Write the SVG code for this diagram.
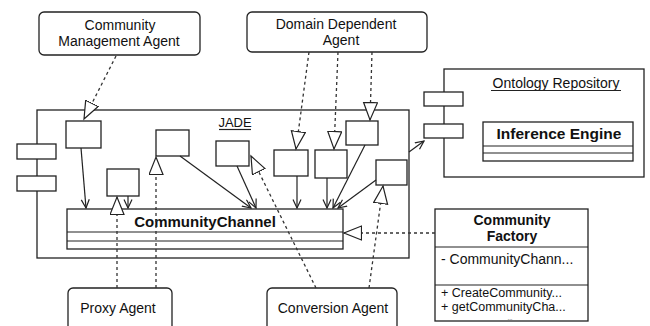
<svg xmlns="http://www.w3.org/2000/svg" width="650" height="326" viewBox="0 0 650 326">
<defs>
<style>
.box{fill:#fff;stroke:#222;stroke-width:1.3}
.ln{fill:none;stroke:#222;stroke-width:1.2}
.dep{fill:none;stroke:#333;stroke-width:1.3;stroke-dasharray:3,3}
.t{font-family:"Liberation Sans",Arial,sans-serif;fill:#111;text-anchor:middle}
.tl{font-family:"Liberation Sans",Arial,sans-serif;fill:#111}
.b{font-weight:bold}
</style>
<marker id="tri" markerUnits="userSpaceOnUse" markerWidth="20" markerHeight="16" refX="18" refY="7.5" orient="auto" viewBox="0 0 20 16">
<path d="M0.5,0.5 L18,7.5 L0.5,14.5 Z" fill="#fff" stroke="#222" stroke-width="1.2"/>
</marker>
<marker id="arr" markerUnits="userSpaceOnUse" markerWidth="10" markerHeight="10" refX="9" refY="4.5" orient="auto" viewBox="0 0 10 10">
<path d="M0.5,0.5 L9,4.5 L0.5,8.5" fill="none" stroke="#222" stroke-width="1.2"/>
</marker>
</defs>
<rect width="650" height="326" fill="#fff"/>

<g id="jade">
<rect class="box" x="37" y="110" width="372" height="148"/>
<rect class="box" x="17" y="144" width="39" height="15"/>
<rect class="box" x="17" y="176" width="39" height="15"/>
<text class="t" x="235" y="127" font-size="13">JADE</text>
<line class="ln" x1="219" y1="129.5" x2="251" y2="129.5"/>
</g>

<g id="box-a"><rect class="box" x="66" y="121" width="35" height="27"/></g>
<g id="box-b"><rect class="box" x="107" y="169" width="32" height="27"/></g>
<g id="box-c"><rect class="box" x="156" y="130" width="33" height="26"/></g>
<g id="box-d"><rect class="box" x="216" y="141" width="33" height="25"/></g>
<g id="box-e"><rect class="box" x="274" y="150" width="34" height="26"/></g>
<g id="box-f"><rect class="box" x="315" y="150" width="32" height="28"/></g>
<g id="box-g"><rect class="box" x="346" y="121" width="32" height="24"/></g>
<g id="box-h"><rect class="box" x="376" y="160" width="31" height="25"/></g>

<g id="community-channel">
<rect class="box" x="67" y="209" width="276" height="40"/>
<line class="ln" x1="67" y1="232" x2="343" y2="232"/>
<line class="ln" x1="67" y1="241" x2="343" y2="241"/>
<text class="t b" x="205" y="227" font-size="15">CommunityChannel</text>
</g>

<g id="community-management-agent">
<rect class="box" x="39" y="12" width="161" height="43" rx="5"/>
<text class="t" x="120" y="30" font-size="14">Community</text>
<text class="t" x="119" y="46" font-size="14">Management Agent</text>
</g>

<g id="domain-dependent-agent">
<rect class="box" x="247" y="12" width="180" height="40" rx="5"/>
<text class="t" x="336" y="29" font-size="14">Domain Dependent</text>
<text class="t" x="341" y="45" font-size="14">Agent</text>
</g>

<g id="ontology-repository">
<rect class="box" x="444" y="69" width="200" height="108"/>
<rect class="box" x="424" y="92" width="39" height="14"/>
<rect class="box" x="424" y="124" width="39" height="14"/>
<text class="t" x="556" y="88" font-size="14">Ontology Repository</text>
<line class="ln" x1="491" y1="90.5" x2="621" y2="90.5"/>
</g>

<g id="inference-engine">
<rect class="box" x="483" y="122" width="150" height="39"/>
<line class="ln" x1="483" y1="146" x2="633" y2="146"/>
<line class="ln" x1="483" y1="153" x2="633" y2="153"/>
<text class="t b" x="559" y="139" font-size="15.5">Inference Engine</text>
</g>

<g id="community-factory">
<rect class="box" x="435" y="209" width="153" height="112"/>
<line class="ln" x1="435" y1="247" x2="588" y2="247"/>
<line class="ln" x1="435" y1="285" x2="588" y2="285"/>
<text class="t b" x="512" y="225" font-size="14">Community</text>
<text class="t b" x="512" y="241" font-size="14">Factory</text>
<text class="tl" x="441" y="264" font-size="14">- CommunityChann...</text>
<text class="tl" x="441" y="297" font-size="12.5">+ CreateCommunity...</text>
<text class="tl" x="441" y="311" font-size="12.5">+ getCommunityCha...</text>
<text class="t" x="510" y="319.5" font-size="6">...</text>
</g>

<g id="proxy-agent">
<rect class="box" x="68" y="288" width="104" height="50" rx="5"/>
<text class="t" x="118" y="313" font-size="14">Proxy Agent</text>
</g>

<g id="conversion-agent">
<rect class="box" x="267" y="288" width="130" height="50" rx="5"/>
<text class="t" x="333" y="313" font-size="14">Conversion Agent</text>
</g>

<g id="connectors">
<line class="dep" x1="116" y1="56" x2="84" y2="119" marker-end="url(#tri)"/>
<line class="dep" x1="309" y1="52" x2="296" y2="149" marker-end="url(#tri)"/>
<line class="dep" x1="338" y1="52" x2="334" y2="149" marker-end="url(#tri)"/>
<line class="dep" x1="372" y1="52" x2="370" y2="120" marker-end="url(#tri)"/>
<line class="dep" x1="117" y1="288" x2="117" y2="197" marker-end="url(#tri)"/>
<line class="dep" x1="156" y1="288" x2="156" y2="157" marker-end="url(#tri)"/>
<line class="dep" x1="316" y1="288" x2="251" y2="156" marker-end="url(#tri)"/>
<line class="dep" x1="369" y1="288" x2="383" y2="186" marker-end="url(#tri)"/>
<line class="dep" x1="435" y1="233" x2="344" y2="233" marker-end="url(#tri)"/>
<line class="ln" x1="81" y1="148" x2="86" y2="208" marker-end="url(#arr)"/>
<line class="ln" x1="128" y1="196" x2="128" y2="208" marker-end="url(#arr)"/>
<line class="ln" x1="180" y1="156" x2="251" y2="208" marker-end="url(#arr)"/>
<line class="ln" x1="237" y1="166" x2="256" y2="208" marker-end="url(#arr)"/>
<line class="ln" x1="297" y1="176" x2="297" y2="208" marker-end="url(#arr)"/>
<line class="ln" x1="327" y1="178" x2="327" y2="208" marker-end="url(#arr)"/>
<line class="ln" x1="365" y1="145" x2="333" y2="208" marker-end="url(#arr)"/>
<line class="ln" x1="376" y1="180" x2="338" y2="208" marker-end="url(#arr)"/>
<line class="ln" x1="409" y1="152" x2="424" y2="141" marker-end="url(#arr)"/>
</g>
</svg>
